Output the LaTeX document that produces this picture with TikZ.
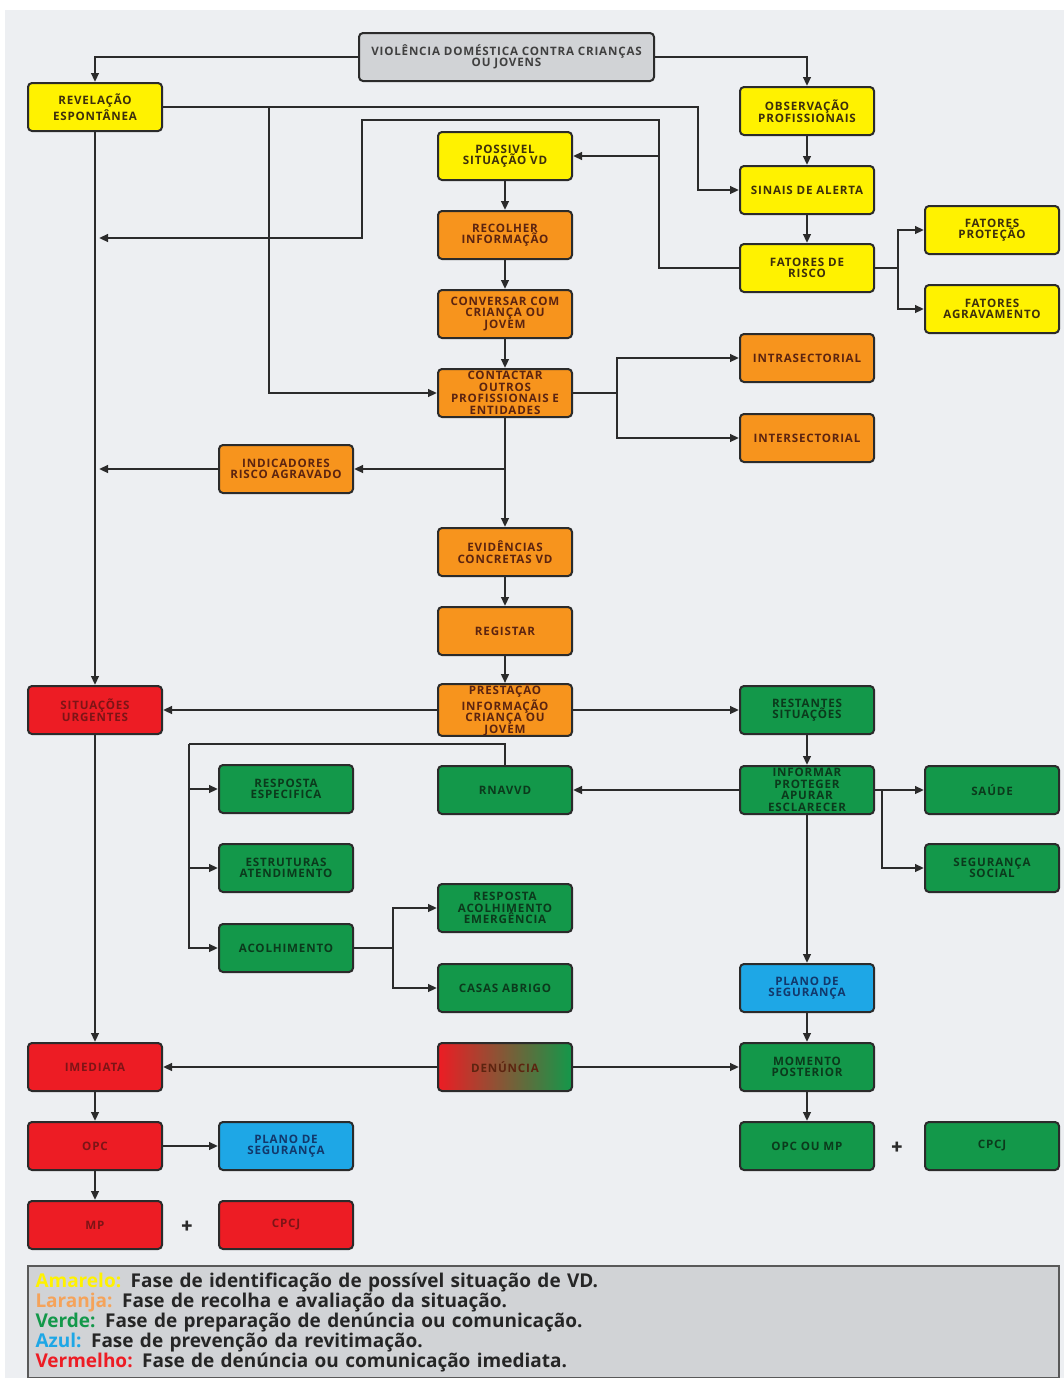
\documentclass[tikz,border=0pt]{standalone}
\usepackage{fontspec}
\setmainfont{PT Sans}
\newfontfamily\caixafont[LetterSpace=7]{Open Sans}
\newfontfamily\legfont{Open Sans}
\usepackage{tikz}
\usetikzlibrary{arrows.meta}

\definecolor{amarelo}{HTML}{FFF200}
\definecolor{laranja}{HTML}{F7941D}
\definecolor{verde}{HTML}{13984A}
\definecolor{azul}{HTML}{1EA7E6}
\definecolor{vermelho}{HTML}{ED1C24}
\definecolor{cinza}{HTML}{D1D3D6}
\definecolor{fundo}{HTML}{EDEFF2}
\definecolor{linha}{HTML}{2B2B2B}
\definecolor{tamr}{HTML}{3D2F0C}
\definecolor{tlar}{HTML}{5C2410}
\definecolor{tver}{HTML}{0B3A1C}
\definecolor{tvrm}{HTML}{7D1416}
\definecolor{tazu}{HTML}{12386B}
\definecolor{llar}{HTML}{F5A35A}

\begin{document}
\begin{tikzpicture}[x=0.5pt,y=-0.5pt,
  box/.style={draw=linha, line width=1pt, rounded corners=2pt, minimum width=67pt, minimum height=24pt, inner sep=0pt, align=center, font=\caixafont\bfseries\fontsize{5.8}{5.8}\selectfont},
  amr/.style={box, fill=amarelo, text=tamr},
  lar/.style={box, fill=laranja, text=tlar},
  ver/.style={box, fill=verde, text=tver},
  vrm/.style={box, fill=vermelho, text=tvrm},
  azu/.style={box, fill=azul, text=tazu},
  arr/.style={draw=linha, line width=1.1pt, -{Triangle[length=4.5pt,width=3.8pt]}},
  lin/.style={draw=linha, line width=1.1pt}]
    \useasboundingbox (0,0) rectangle (1064,1378);
    \fill[white] (0,0) rectangle (1064,1378);
    \fill[fundo] (5,10) rectangle (1064,1378);

    \node[box, fill=cinza, text=black!75, minimum width=147.5pt] (vd) at (506.5,57) {VIOLÊNCIA DOMÉSTICA CONTRA CRIANÇAS\\OU JOVENS};
    \node[amr] (rev) at (95,107) {REVELAÇÃO\\ESPONTÂNEA};
    \node[amr] (obs) at (807,111) {OBSERVAÇÃO\\PROFISSIONAIS};
    \node[amr] (sin) at (807,190) {SINAIS DE ALERTA};
    \node[amr] (risco) at (807,268) {FATORES DE\\RISCO};
    \node[amr] (prot) at (992,230) {FATORES\\PROTEÇÃO};
    \node[amr] (agr) at (992,309) {FATORES\\AGRAVAMENTO};
    \node[amr] (poss) at (505,156) {POSSIVEL\\SITUAÇÃO VD};
    \node[lar] (rec) at (505,235) {RECOLHER\\INFORMAÇÃO};
    \node[lar] (conv) at (505,314) {CONVERSAR COM\\CRIANÇA OU\\JOVEM};
    \node[lar] (cont) at (505,393) {CONTACTAR\\OUTROS\\PROFISSIONAIS E\\ENTIDADES};
    \node[lar] (intra) at (807,358) {INTRASECTORIAL};
    \node[lar] (inter) at (807,438) {INTERSECTORIAL};
    \node[lar] (ind) at (286,469) {INDICADORES\\RISCO AGRAVADO};
    \node[lar] (evid) at (505,552) {EVIDÊNCIAS\\CONCRETAS VD};
    \node[lar] (reg) at (505,631) {REGISTAR};
    \node[lar] (prest) at (505,710) {PRESTAÇÃO\\INFORMAÇÃO\\CRIANÇA OU\\JOVEM};
    \node[vrm] (urg) at (95,710) {SITUAÇÕES\\URGENTES};
    \node[ver] (rest) at (807,710) {RESTANTES\\SITUAÇÕES};
    \node[ver] (inf) at (807,790) {INFORMAR\\PROTEGER\\APURAR\\ESCLARECER};
    \node[ver] (rnav) at (505,790) {RNAVVD};
    \node[ver] (saude) at (992,790) {SAÚDE};
    \node[ver] (segs) at (992,868) {SEGURANÇA\\SOCIAL};
    \node[ver] (resp) at (286,789) {RESPOSTA\\ESPECIFICA};
    \node[ver] (estr) at (286,868) {ESTRUTURAS\\ATENDIMENTO};
    \node[ver] (acol) at (286,948) {ACOLHIMENTO};
    \node[ver] (race) at (505,908) {RESPOSTA\\ACOLHIMENTO\\EMERGÊNCIA};
    \node[ver] (casas) at (505,988) {CASAS ABRIGO};
    \node[azu] (plr) at (807,988) {PLANO DE\\SEGURANÇA};
    \node[vrm] (imed) at (95,1067) {IMEDIATA};
    \node[box, left color=vermelho, right color=verde, text=tlar] (den) at (505,1067) {DENÚNCIA};
    \node[ver] (mom) at (807,1067) {MOMENTO\\POSTERIOR};
    \node[vrm] (opc) at (95,1146) {OPC};
    \node[azu] (pll) at (286,1146) {PLANO DE\\SEGURANÇA};
    \node[vrm] (mp) at (95,1225) {MP};
    \node[vrm] (cpl) at (286,1225) {CPCJ};
    \node[ver] (opcmp) at (807,1146) {OPC OU MP};
    \node[ver] (cpr) at (992,1146) {CPCJ};
    \node[font=\bfseries\fontsize{11}{11}\selectfont, text=linha] (mais1) at (187,1227) {+};
    \node[font=\bfseries\fontsize{11}{11}\selectfont, text=linha] (mais2) at (897,1148) {+};

    \coordinate (kSin) at (698,107);
    \coordinate (kCon) at (269,107);
    \coordinate (kRis) at (659,120);
    \coordinate (kVolta) at (362,120);
    \coordinate (kCt) at (617,393);
    \coordinate (kFat) at (898,268);
    \coordinate (kInf) at (882,790);
    \coordinate (kRn) at (189,744);
    \coordinate (kAc) at (393,948);

    \draw[arr] (vd.west) -| (rev);
    \draw[arr] (vd.east) -| (obs);
    \draw[arr] (obs) -- (sin);
    \draw[arr] (sin) -- (risco);
    \draw[arr] (rev.east) -- (kSin) |- (sin.west);
    \draw[arr] (kCon) |- (cont.west);
    \draw[arr] (risco.west) -| (kRis) -- (kVolta) |- ([xshift=2pt,yshift=-1.5pt]rev |- rec);
    \draw[arr] (kRis |- poss) -- (poss.east);
    \draw[lin] (risco.east) -- (kFat);
    \draw[arr] (kFat) |- (prot.west);
    \draw[arr] (kFat) |- (agr.west);

    \draw[arr] (poss) -- (rec);
    \draw[arr] (rec) -- (conv);
    \draw[arr] (conv) -- (cont);
    \draw[arr] (cont) -- (evid);
    \draw[arr] (evid) -- (reg);
    \draw[arr] (reg) -- (prest);
    \draw[lin] (cont.east) -- (kCt);
    \draw[arr] (kCt) |- (intra.west);
    \draw[arr] (kCt) |- (inter.west);
    \draw[arr] (cont |- ind) -- (ind.east);
    \draw[arr] (ind.west) -- ([xshift=2pt]rev |- ind);
    \draw[arr] (rev) -- (urg);

    \draw[arr] (prest.west) -- (urg.east);
    \draw[arr] (prest.east) -- (rest.west);
    \draw[arr] (rest) -- (inf);
    \draw[arr] (inf.west) -- (rnav.east);
    \draw[lin] (inf.east) -- (kInf);
    \draw[arr] (kInf) -- (saude.west);
    \draw[arr] (kInf) |- (segs.west);
    \draw[arr] (inf) -- (plr);
    \draw[lin] (rnav.north) |- (kRn);
    \draw[arr] (kRn) |- (acol.west);
    \draw[arr] (kRn |- resp) -- (resp.west);
    \draw[arr] (kRn |- estr) -- (estr.west);
    \draw[lin] (acol.east) -- (kAc);
    \draw[arr] (kAc) |- (race.west);
    \draw[arr] (kAc) |- (casas.west);

    \draw[arr] (urg) -- (imed);
    \draw[arr] (plr) -- (mom);
    \draw[arr] (den.west) -- (imed.east);
    \draw[arr] (den.east) -- (mom.west);
    \draw[arr] (imed) -- (opc);
    \draw[arr] (opc) -- (mp);
    \draw[arr] (opc.east) -- (pll.west);
    \draw[arr] (mom) -- (opcmp);

    \node[draw=black!65, line width=1.2pt, fill=cinza, minimum width=515.5pt, minimum height=53pt, text width=508pt, inner xsep=3pt, align=left, font=\legfont\bfseries\fontsize{9.5}{10}\selectfont, text=black!85] (leg) at (543.5,1322)
      {\textcolor{amarelo}{Amarelo:} Fase de identificação de possível situação de VD.\\
       \textcolor{llar}{Laranja:} Fase de recolha e avaliação da situação.\\
       \textcolor{verde}{Verde:} Fase de preparação de denúncia ou comunicação.\\
       \textcolor{azul}{Azul:} Fase de prevenção da revitimação.\\
       \textcolor{vermelho}{Vermelho:} Fase de denúncia ou comunicação imediata.};
\end{tikzpicture}
\end{document}
